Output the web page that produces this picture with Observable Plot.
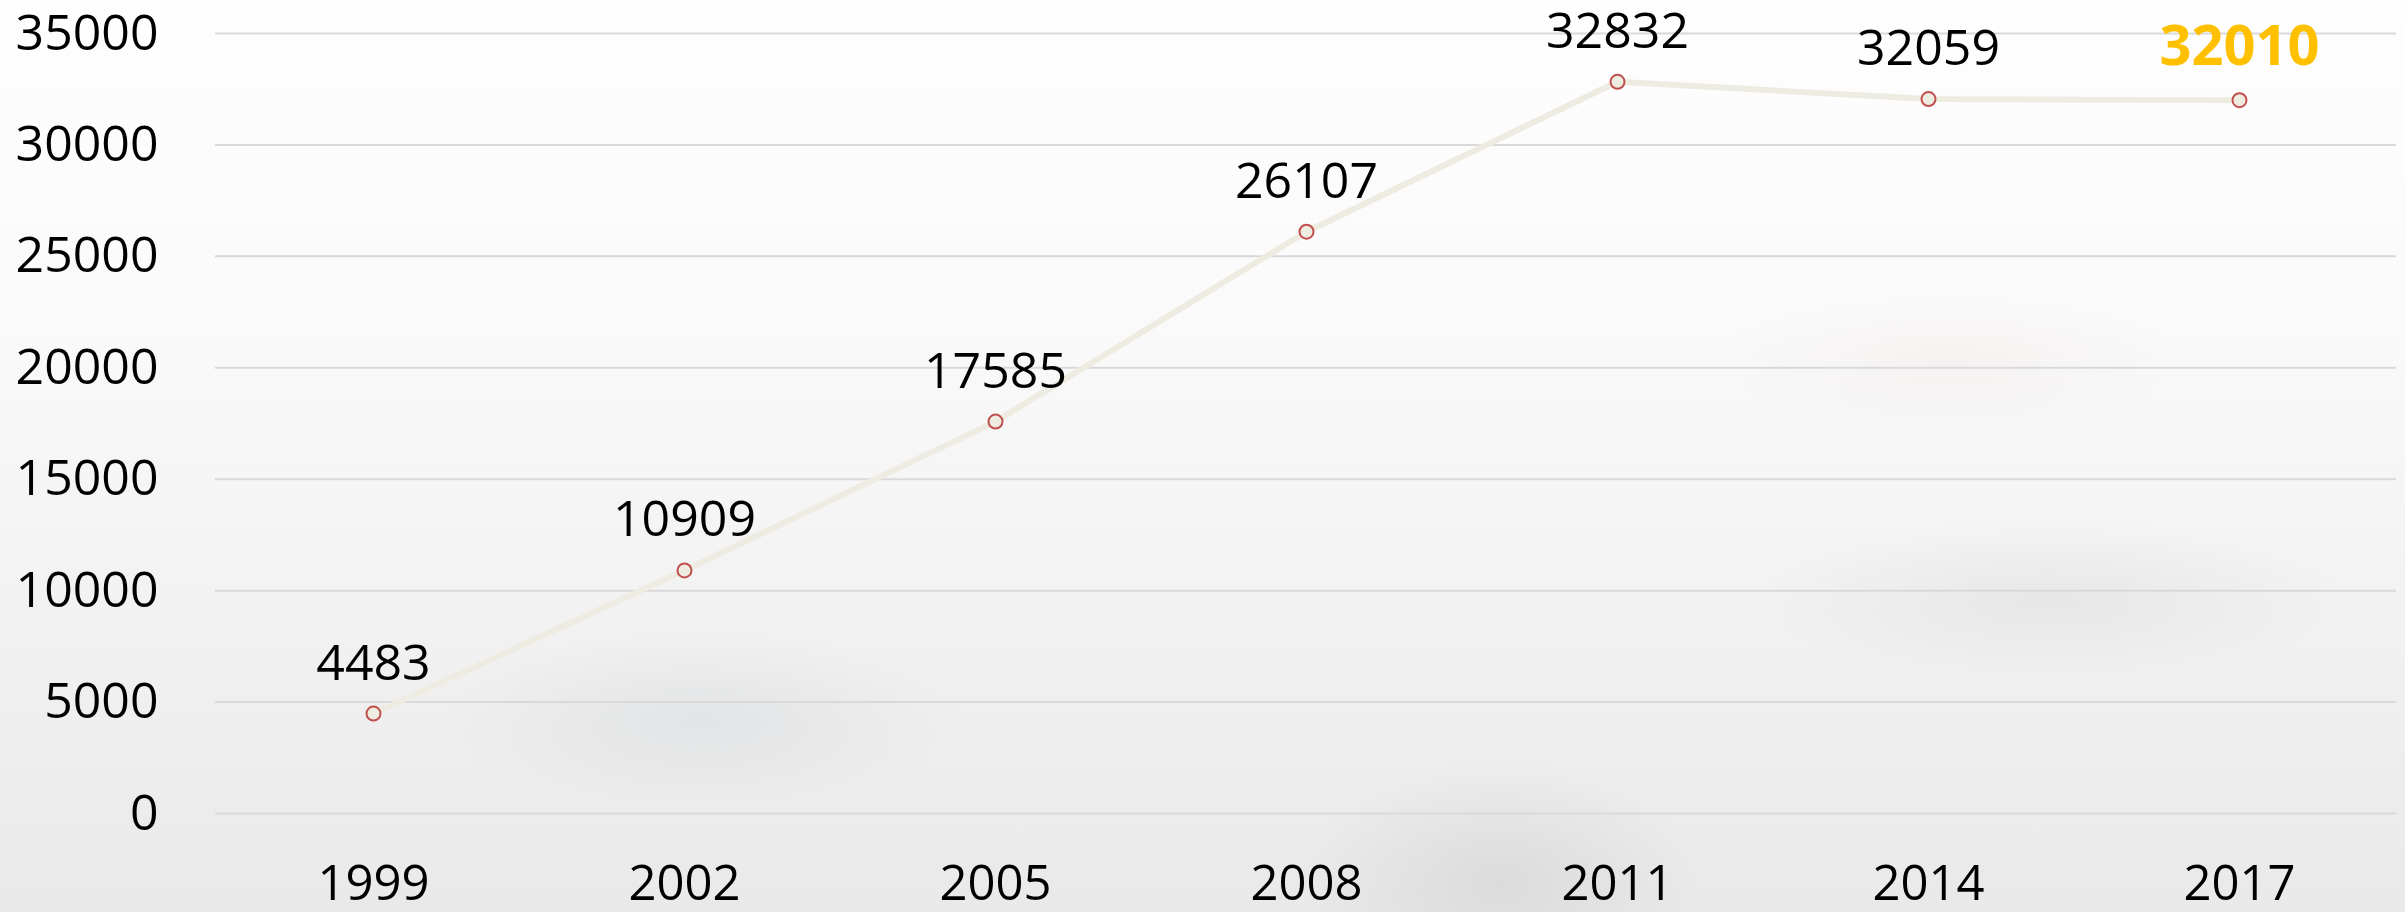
<!DOCTYPE html>
<html>
<head>
<meta charset="utf-8">
<script src="https://cdn.jsdelivr.net/npm/d3@7"></script>
<script src="https://cdn.jsdelivr.net/npm/@observablehq/plot@0.6"></script>
<style>
  html, body { margin: 0; padding: 0; }
  body {
    width: 2405px; height: 912px; overflow: hidden;
    background:
      radial-gradient(ellipse 260px 90px at 700px 720px, rgba(150,160,170,0.14), rgba(150,160,170,0) 100%),
      radial-gradient(ellipse 200px 120px at 1500px 880px, rgba(120,120,120,0.13), rgba(120,120,120,0) 100%),
      radial-gradient(ellipse 300px 80px at 2050px 600px, rgba(130,130,140,0.10), rgba(130,130,140,0) 100%),
      radial-gradient(ellipse 240px 70px at 1950px 360px, rgba(200,120,120,0.06), rgba(200,120,120,0) 100%),
      linear-gradient(to bottom, #fefefe 0%, #fafafa 35%, #f1f1f1 70%, #e9e9e9 100%);
  }
  #chart svg { display: block; }
</style>
</head>
<body>
<div id="chart"></div>
<script>
const years = ["1999", "2002", "2005", "2008", "2011", "2014", "2017"];
const values = [4483, 10909, 17585, 26107, 32832, 32059, 32010];
const yTicks = [0, 5000, 10000, 15000, 20000, 25000, 30000, 35000];
const highlightYear = "2017";

const data = years.map((year, i) => ({year, value: values[i]}));
const normal = data.filter(d => d.year !== highlightYear);
const highlight = data.filter(d => d.year === highlightYear);

const chart = Plot.plot({
  width: 2405,
  height: 912,
  marginLeft: 215,
  marginRight: 9,
  marginTop: 33,
  marginBottom: 99,
  x: {type: "point", domain: years, padding: 0.5},
  y: {domain: [0, 35000]},
  style: {fontFamily: "'Open Sans', sans-serif", background: "transparent", color: "#000", overflow: "visible"},
  marks: [
    Plot.gridY(yTicks, {stroke: "#d9d9d9", strokeOpacity: 1, strokeWidth: 2}),
    Plot.axisY(yTicks, {tickSize: 0, tickPadding: 57, fontSize: 50, tickFormat: d3.format("d"), label: null}),
    Plot.axisX({tickSize: 0, tickPadding: 52, fontSize: 49, label: null}),
    Plot.line(data, {x: "year", y: "value", stroke: "#EEEBE0", strokeWidth: 6}),
    Plot.dot(data, {x: "year", y: "value", r: 7, stroke: "#C0504D", strokeWidth: 2, fill: "#EEECE1"}),
    Plot.text(normal, {x: "year", y: "value", text: d => String(d.value), dy: -34, lineAnchor: "bottom", fontSize: 50, fill: "#000"}),
    Plot.text(highlight, {x: "year", y: "value", text: d => String(d.value), dy: -35, lineAnchor: "bottom", fontSize: 56, fontWeight: "bold", fill: "#FFC000"})
  ]
});
document.getElementById("chart").appendChild(chart);
</script>
</body>
</html>
